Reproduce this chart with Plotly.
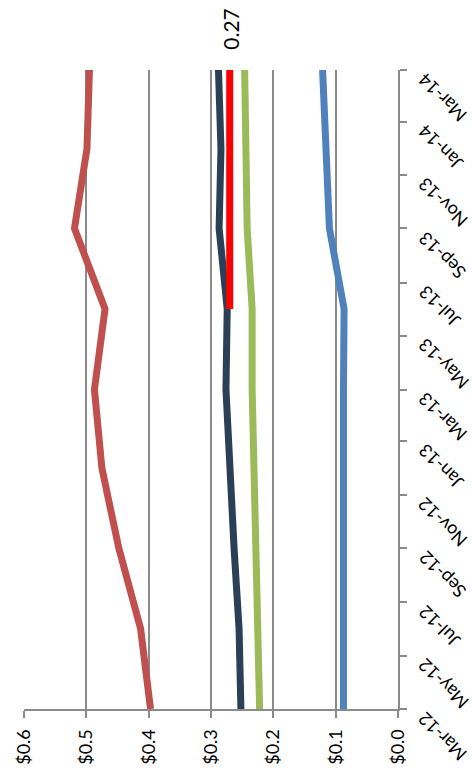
import plotly.graph_objects as go

# Quarterly observation dates
dates = ["2012-03-01", "2012-06-01", "2012-09-01", "2012-12-01", "2013-03-01",
         "2013-06-01", "2013-09-01", "2013-12-01", "2014-03-01"]

# Series values ($)
series_brown = [0.397, 0.413, 0.448, 0.475, 0.487, 0.470, 0.519, 0.499, 0.495]
series_navy = [0.252, 0.255, 0.263, 0.270, 0.276, 0.274, 0.287, 0.284, 0.288]
series_green = [0.222, 0.225, 0.228, 0.2315, 0.234, 0.234, 0.242, 0.244, 0.246]
series_blue = [0.0875, 0.0875, 0.0875, 0.090, 0.0875, 0.0865, 0.110, 0.1155, 0.121]

# Flat target segment
target_dates = ["2013-06-01", "2014-03-01"]
target_values = [0.27, 0.27]
target_label = "0.27"

# Axis ticks
value_ticks = [0.0, 0.1, 0.2, 0.3, 0.4, 0.5, 0.6]
date_ticks = ["2012-03-01", "2012-05-01", "2012-07-01", "2012-09-01", "2012-11-01",
              "2013-01-01", "2013-03-01", "2013-05-01", "2013-07-01", "2013-09-01",
              "2013-11-01", "2014-01-01", "2014-03-01"]
date_tick_labels = ["Mar-12", "May-12", "Jul-12", "Sep-12", "Nov-12", "Jan-13",
                    "Mar-13", "May-13", "Jul-13", "Sep-13", "Nov-13", "Jan-14",
                    "Mar-14"]

FONT = "Lato, 'Open Sans', sans-serif"
GRID = "#8A8A8A"

fig = go.Figure()


def add_line(vals, xs, color, width=7):
    fig.add_trace(go.Scatter(
        x=vals, y=xs, mode="lines",
        line=dict(color=color, width=width),
        showlegend=False, hoverinfo="skip",
    ))


add_line(series_blue, dates, "#4F81BD")
add_line(series_brown, dates, "#C0504D")
add_line(series_green, dates, "#9BBB59")
add_line(series_navy, dates, "#2B3F56")
add_line(target_values, target_dates, "#FF0000")

fig.add_annotation(
    x=target_values[-1], y=target_dates[-1],
    text=target_label, showarrow=False,
    textangle=-90, yanchor="bottom", xanchor="center",
    yshift=18,
    font=dict(family=FONT, size=21, color="#000000"),
)

# Date labels hang from each tick, rotated so they read upward to the left
for d, lbl in zip(date_ticks, date_tick_labels):
    fig.add_annotation(
        xref="paper", x=1, y=d, yref="y",
        text=lbl, showarrow=False,
        textangle=-135, xanchor="left", yanchor="top",
        xshift=13, yshift=4,
        font=dict(family=FONT, size=18, color="#000000"),
    )

fig.update_layout(
    width=472, height=777,
    margin=dict(l=19, r=74, t=70, b=63),
    paper_bgcolor="white", plot_bgcolor="white",
    font=dict(family=FONT, size=18, color="#000000"),
    xaxis=dict(
        range=[0.6, 0.0],
        tickvals=value_ticks,
        tickformat="$.1f",
        tickangle=-90,
        ticklabelstandoff=4,
        showgrid=True, gridcolor=GRID, gridwidth=2,
        zeroline=False,
        showline=True, linecolor=GRID, linewidth=2,
        ticks="outside", ticklen=7, tickcolor=GRID, tickwidth=2,
        fixedrange=True,
    ),
    yaxis=dict(
        type="date",
        range=["2012-03-01", "2014-03-01"],
        side="right",
        tickvals=date_ticks,
        showticklabels=False,
        showgrid=False, zeroline=False,
        showline=True, linecolor=GRID, linewidth=2,
        ticks="outside", ticklen=7, tickcolor=GRID, tickwidth=2,
        fixedrange=True,
    ),
)

fig.write_html("out.html")
